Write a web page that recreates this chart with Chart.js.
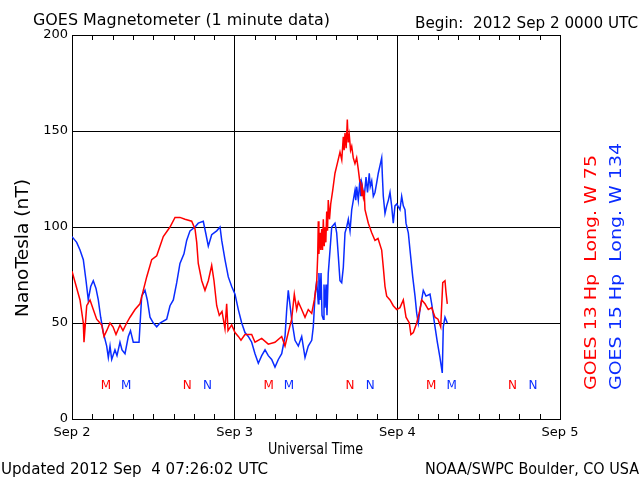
<!DOCTYPE html>
<html>
<head>
<meta charset="utf-8">
<title>GOES Magnetometer</title>
<script src="https://cdn.jsdelivr.net/npm/chart.js@4.4.1/dist/chart.umd.min.js"></script>
<style>
  html, body { margin: 0; padding: 0; background: #fff; }
  #wrap { width: 640px; height: 480px; }
</style>
</head>
<body>
<div id="wrap"><canvas id="chart" width="640" height="480"></canvas></div>
<script>
// hours since 2012 Sep 2 00:00 UTC, values in nT
const g13Hours = [
  0, 1.18, 1.67, 1.77, 2.17, 2.66, 3.14, 3.64, 4.38, 4.72,
  5.12, 5.61, 6.05, 6.49, 7.08, 7.52, 8.07, 8.56, 9.30, 10.03,
  10.52, 11.02, 11.76, 12.50, 12.98, 13.47, 14.46, 15.20, 15.93, 16.67,
  17.66, 18.15, 18.40, 18.63, 19.14, 19.62, 20.11, 20.61, 20.95, 21.35,
  21.73, 22.13, 22.57, 22.82, 23.02, 23.56, 24.05, 24.54, 24.93, 25.52,
  26.51, 27.0, 27.99, 28.96, 29.95, 30.94, 31.43, 31.91, 32.41, 32.80,
  33.15, 33.39, 33.89, 34.38, 34.86, 35.37, 35.75, 36.10, 36.25, 36.34,
  36.43, 36.59, 36.71, 36.84, 36.96, 37.08, 37.21, 37.33, 37.45, 37.58,
  37.70, 37.81, 37.99, 38.17, 38.46, 38.80, 39.14, 39.54, 39.80, 40.03,
  40.15, 40.28, 40.45, 40.62, 40.75, 40.91, 41.10, 41.27, 41.50, 41.75,
  42.00, 42.24, 42.45, 42.60, 42.75, 42.85, 42.98, 43.10, 43.23, 43.72,
  44.22, 44.70, 45.15, 45.69, 45.93, 46.18, 46.43, 46.92, 47.40, 47.91,
  48.39, 48.88, 49.28, 49.77, 50.0, 50.36, 50.86, 51.34, 51.59, 52.08,
  52.57, 53.07, 53.56, 54.0, 54.40, 54.70, 55.03, 55.18, 55.37
];
const g13Values = [
  77, 62, 50, 40, 59, 62, 57, 52, 49, 43,
  46, 50, 48, 44, 49, 46, 50, 53, 57, 60,
  67, 74, 83, 85, 90, 95, 100, 105, 105, 104,
  103, 99, 92, 81, 72, 67, 72, 80, 72, 59,
  54, 56, 47, 60, 46, 49, 45, 43, 41, 44,
  44, 40, 42, 39, 40, 43, 38, 45, 52, 65,
  57, 61, 57, 53, 57, 55, 62, 71, 85, 103,
  86, 97, 88, 99, 88, 104, 90, 100, 92, 108,
  98, 114, 104, 112, 119, 128, 133, 139, 135, 147,
  140, 149, 141, 156, 144, 148, 140, 142, 136, 133,
  136, 130, 124, 123, 116, 120, 116, 119, 109, 102,
  97, 93, 94, 88, 79, 69, 64, 62, 59, 57,
  58, 62, 53, 50, 44, 45, 50, 57, 62, 60,
  57, 58, 53, 52, 48, 71, 72, 66, 60
];

const g15Hours = [
  0, 0.69, 1.18, 1.67, 2.07, 2.40, 2.76, 3.14, 3.54, 3.88,
  4.23, 4.62, 5.12, 5.36, 5.61, 5.86, 6.34, 6.64, 7.08, 7.38,
  7.82, 8.31, 8.63, 9.04, 9.55, 9.89, 10.28, 10.77, 11.11, 11.51,
  12.0, 12.50, 12.98, 13.97, 14.46, 14.95, 15.45, 15.93, 16.52, 16.92,
  17.41, 18.15, 18.63, 19.37, 19.72, 20.11, 20.61, 21.35, 21.84, 22.09,
  22.57, 23.06, 23.56, 24.05, 24.54, 25.04, 25.52, 26.01, 26.51, 27.0,
  27.49, 27.99, 28.48, 28.96, 29.46, 29.95, 30.44, 30.94, 31.43, 31.68,
  31.91, 32.41, 32.90, 33.39, 33.89, 34.38, 34.86, 35.37, 35.60, 35.85,
  36.10, 36.34, 36.43, 36.59, 36.74, 36.89, 37.08, 37.18, 37.33, 37.48,
  37.62, 37.81, 38.07, 38.32, 38.80, 39.05, 39.29, 39.54, 39.79, 40.03,
  40.28, 40.53, 40.77, 41.02, 41.27, 41.51, 41.75, 41.87, 42.00, 42.24,
  42.49, 42.60, 42.73, 42.98, 43.13, 43.38, 43.60, 43.86, 44.00, 44.22,
  44.46, 44.70, 44.95, 45.19, 45.44, 45.69, 45.80, 45.93, 46.18, 46.43,
  46.68, 46.92, 47.16, 47.40, 47.65, 47.91, 48.39, 48.64, 48.88, 49.13,
  49.28, 49.62, 49.87, 50.27, 50.61, 50.86, 51.09, 51.34, 51.83, 52.23,
  52.82, 53.07, 53.56, 53.90, 54.29, 54.63, 54.78, 55.03, 55.37
];
const g15Values = [
  95, 92, 88, 83, 72, 62, 69, 72, 68, 62,
  53, 45, 38, 32, 38, 31, 36, 33, 40, 36,
  34, 43, 46, 40, 40, 40, 64, 67, 62, 53,
  50, 48, 50, 52, 59, 62, 71, 81, 86, 93,
  98, 100, 102, 103, 97, 90, 96, 98, 100, 93,
  83, 74, 69, 65, 57, 50, 45, 43, 40, 34,
  29, 33, 36, 33, 31, 27, 31, 34, 43, 57,
  67, 52, 41, 38, 43, 32, 38, 41, 48, 64,
  72, 60, 76, 62, 76, 54, 52, 70, 58, 70,
  54, 76, 88, 100, 102, 97, 85, 72, 71, 79,
  97, 100, 104, 98, 109, 114, 119, 114, 121, 114,
  125, 116, 123, 118, 116, 126, 118, 128, 121, 124,
  116, 118, 123, 128, 132, 136, 126, 116, 107, 111,
  114, 118, 111, 102, 111, 112, 109, 116, 111, 109,
  102, 97, 88, 74, 64, 55, 50, 57, 67, 64,
  65, 60, 48, 40, 32, 24, 48, 53, 50
];

const dayLabels = ['Sep 2', 'Sep 3', 'Sep 4', 'Sep 5'];
// local midnight (M) and noon (N) marks for each satellite
const g13MidnightHours = [5, 29, 53];
const g15MidnightHours = [8, 32, 56];
const g13NoonHours = [17, 41, 65];
const g15NoonHours = [20, 44, 68];
const markerLevel = 17;

const RED = '#ff0000';
const BLUE = '#0a2cff';
const FONT = 'DejaVu Sans';

function toPoints(hours, values) {
  return hours.map((h, i) => ({ x: h, y: values[i] }));
}

// draw text stretched/squeezed to a given width
function fitText(ctx, text, x, y, width) {
  const w = ctx.measureText(text).width;
  ctx.save();
  ctx.translate(x, y);
  ctx.scale(width / w, 1);
  ctx.fillText(text, 0, 0);
  ctx.restore();
}

const decorPlugin = {
  id: 'decor',
  beforeDatasetsDraw(chart) {
    const { ctx, chartArea, scales } = chart;
    ctx.save();
    ctx.strokeStyle = '#000';
    ctx.lineWidth = 1;
    ctx.beginPath();
    for (let h = 3; h < 72; h += 3) {
      if (h % 24 === 0) continue;
      const x = Math.round(scales.x.getPixelForValue(h)) + 0.5;
      ctx.moveTo(x, chartArea.bottom);
      ctx.lineTo(x, chartArea.bottom - 5);
      ctx.moveTo(x, chartArea.top);
      ctx.lineTo(x, chartArea.top + 5);
    }
    ctx.stroke();

    // M / N marks
    ctx.font = '12px ' + FONT;
    ctx.textAlign = 'center';
    ctx.textBaseline = 'middle';
    const y = scales.y.getPixelForValue(markerLevel);
    const marks = [
      [g13MidnightHours, 'M', RED], [g15MidnightHours, 'M', BLUE],
      [g13NoonHours, 'N', RED], [g15NoonHours, 'N', BLUE]
    ];
    marks.forEach(([hours, letter, color]) => {
      ctx.fillStyle = color;
      hours.forEach(h => ctx.fillText(letter, scales.x.getPixelForValue(h), y));
    });
    ctx.restore();
  },
  afterDraw(chart) {
    const ctx = chart.ctx;
    ctx.save();
    ctx.fillStyle = '#000';
    ctx.textAlign = 'left';
    ctx.textBaseline = 'alphabetic';
    ctx.font = '16px ' + FONT;
    fitText(ctx, 'GOES Magnetometer (1 minute data)', 33, 25, 297);
    ctx.font = '15px ' + FONT;
    fitText(ctx, 'Begin:  2012 Sep 2 0000 UTC', 415, 28, 223);
    fitText(ctx, 'Universal Time', 268, 454, 95);
    fitText(ctx, 'Updated 2012 Sep  4 07:26:02 UTC', 1, 474, 267);
    fitText(ctx, 'NOAA/SWPC Boulder, CO USA', 425, 474, 214);

    // rotated texts
    ctx.font = '17px ' + FONT;
    ctx.save();
    ctx.translate(28, 317);
    ctx.rotate(-Math.PI / 2);
    fitText(ctx, 'NanoTesla (nT)', 0, 0, 138);
    ctx.restore();

    ctx.font = '16px ' + FONT;
    ctx.fillStyle = RED;
    ctx.save();
    ctx.translate(596, 390);
    ctx.rotate(-Math.PI / 2);
    fitText(ctx, 'GOES 13 Hp  Long. W 75', 0, 0, 235);
    ctx.restore();

    ctx.fillStyle = BLUE;
    ctx.save();
    ctx.translate(621, 390);
    ctx.rotate(-Math.PI / 2);
    fitText(ctx, 'GOES 15 Hp  Long. W 134', 0, 0, 247);
    ctx.restore();
    ctx.restore();
  }
};

new Chart(document.getElementById('chart'), {
  type: 'line',
  data: {
    datasets: [
      {
        label: 'GOES 13 Hp',
        data: toPoints(g13Hours, g13Values),
        borderColor: RED,
        borderWidth: 1.5,
        pointRadius: 0,
        tension: 0
      },
      {
        label: 'GOES 15 Hp',
        data: toPoints(g15Hours, g15Values),
        borderColor: BLUE,
        borderWidth: 1.5,
        pointRadius: 0,
        tension: 0
      }
    ]
  },
  options: {
    responsive: false,
    animation: false,
    devicePixelRatio: 1,
    layout: { padding: { left: 0, right: 80, top: 35, bottom: 0 } },
    plugins: {
      legend: { display: false },
      tooltip: { enabled: false }
    },
    scales: {
      x: {
        type: 'linear',
        min: 0,
        max: 72,
        afterFit: scale => { scale.height = 61; },
        ticks: {
          stepSize: 24,
          padding: 6,
          color: '#000',
          font: { family: FONT, size: 13 },
          maxRotation: 0,
          callback: v => dayLabels[v / 24]
        },
        grid: { color: '#000', lineWidth: 1, drawTicks: false },
        border: { color: '#000' }
      },
      y: {
        min: 0,
        max: 200,
        afterFit: scale => { scale.width = 72; },
        ticks: {
          stepSize: 50,
          padding: 4,
          color: '#000',
          font: { family: FONT, size: 13 }
        },
        grid: { color: '#000', lineWidth: 1, drawTicks: false },
        border: { color: '#000' }
      }
    }
  },
  plugins: [decorPlugin]
});
</script>
</body>
</html>
